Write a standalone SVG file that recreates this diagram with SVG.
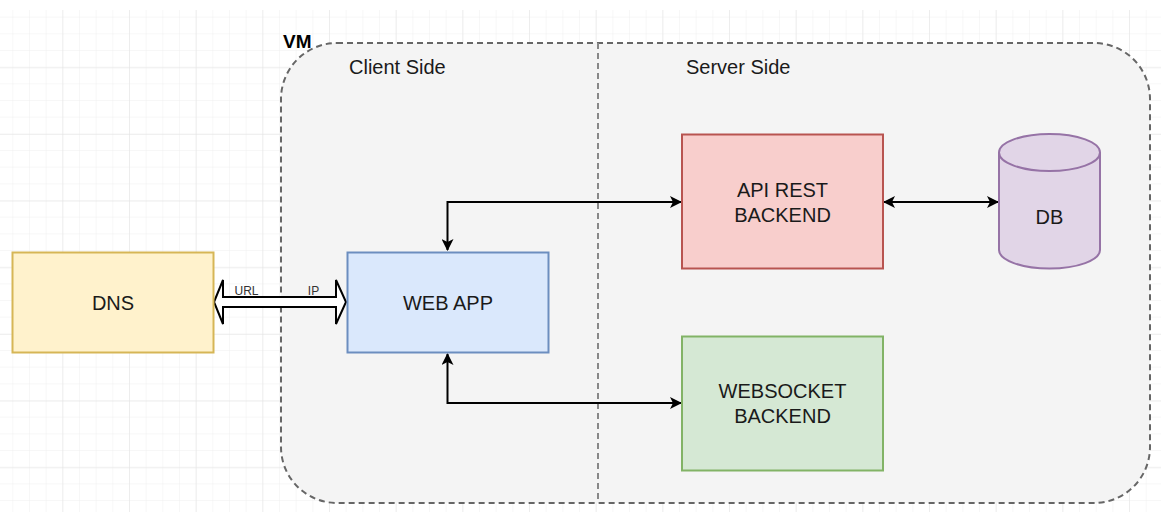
<svg xmlns="http://www.w3.org/2000/svg" width="1161" height="512" viewBox="0 0 1161 512">
  <style>
    .lbl { font-family: "Liberation Sans", Arial, sans-serif; font-size: 20px; fill: #1a1a1a; text-anchor: middle; }
    .side { font-family: "Liberation Sans", Arial, sans-serif; font-size: 20px; fill: #1a1a1a; }
    .small { font-family: "Liberation Sans", Arial, sans-serif; font-size: 12px; fill: #333; text-anchor: middle; }
    .conn { fill: none; stroke: #000; stroke-width: 2; }
  </style>
  <defs>
    <pattern id="minor" x="12.33" y="0" width="16.667" height="16.667" patternUnits="userSpaceOnUse">
      <path d="M 0 0 V 16.667 M 0 0 H 16.667" fill="none" stroke="#f0f0f0" stroke-width="1"/>
    </pattern>
    <pattern id="major" x="62.33" y="0.67" width="66.667" height="66.667" patternUnits="userSpaceOnUse">
      <path d="M 0 0 V 66.667 M 0 0 H 66.667" fill="none" stroke="#e3e3e3" stroke-width="1"/>
    </pattern>
    <marker id="arr" viewBox="0 0 12 12" refX="11" refY="6" markerWidth="12" markerHeight="12" markerUnits="userSpaceOnUse" orient="auto-start-reverse">
      <path d="M 0 0 L 12 6 L 0 12 L 3 6 Z" fill="#000"/>
    </marker>
  </defs>

  <!-- background grid -->
  <rect x="0" y="0" width="1161" height="512" fill="#fff"/>
  <rect x="0" y="10" width="1161" height="502" fill="url(#minor)"/>
  <rect x="0" y="10" width="1161" height="502" fill="url(#major)"/>

  <!-- VM container -->
  <g id="vm">
    <rect x="281" y="43" width="869" height="460" rx="56" ry="56" fill="#f4f4f4" stroke="#666" stroke-width="2" stroke-dasharray="6 4"/>
    <line x1="598" y1="43" x2="598" y2="503" stroke="#888" stroke-width="2" stroke-dasharray="6 4"/>
    <text x="283" y="48" font-family="Liberation Sans, Arial, sans-serif" font-size="19" font-weight="bold" fill="#000">VM</text>
    <text class="side" x="349" y="74">Client Side</text>
    <text class="side" x="686" y="74">Server Side</text>
  </g>

  <!-- connectors -->
  <g id="connectors">
    <path class="conn" d="M 447.5 250 V 202 H 681" marker-start="url(#arr)" marker-end="url(#arr)"/>
    <path class="conn" d="M 447.5 354 V 403 H 681" marker-start="url(#arr)" marker-end="url(#arr)"/>
    <path class="conn" d="M 884 202 H 998" marker-start="url(#arr)" marker-end="url(#arr)"/>
    <!-- hollow double arrow between DNS and WEB APP -->
    <path d="M 214 302 L 223 280 L 223 297 L 336 297 L 336 280 L 346 302 L 336 324 L 336 307 L 223 307 L 223 324 Z" fill="#fff" stroke="#000" stroke-width="2" stroke-linejoin="miter"/>
    <text class="small" x="246.5" y="295">URL</text>
    <text class="small" x="313.5" y="295">IP</text>
  </g>

  <g id="dns">
    <rect x="12.5" y="252.5" width="201" height="100" fill="#fff2cc" stroke="#d6b656" stroke-width="2"/>
    <text class="lbl" x="113" y="309.5">DNS</text>
  </g>

  <g id="webapp">
    <rect x="347.5" y="252.5" width="201" height="100" fill="#dae8fc" stroke="#6c8ebf" stroke-width="2"/>
    <text class="lbl" x="448" y="309.5">WEB APP</text>
  </g>

  <g id="api">
    <rect x="682" y="134.5" width="201" height="134" fill="#f8cecc" stroke="#b85450" stroke-width="2"/>
    <text class="lbl" x="782.5" y="196.5">API REST</text>
    <text class="lbl" x="782.5" y="221.5">BACKEND</text>
  </g>

  <g id="websocket">
    <rect x="682" y="336.5" width="201" height="134" fill="#d5e8d4" stroke="#82b366" stroke-width="2"/>
    <text class="lbl" x="782.5" y="398">WEBSOCKET</text>
    <text class="lbl" x="782.5" y="423">BACKEND</text>
  </g>

  <g id="db">
    <path d="M 999 152.5 A 50.5 18.5 0 0 1 1100 152.5 V 250 A 50.5 18.5 0 0 1 999 250 Z" fill="#e1d5e7" stroke="#9673a6" stroke-width="2"/>
    <path d="M 999 152.5 A 50.5 18.5 0 0 0 1100 152.5" fill="none" stroke="#9673a6" stroke-width="2"/>
    <text class="lbl" x="1049.5" y="224">DB</text>
  </g>
</svg>
